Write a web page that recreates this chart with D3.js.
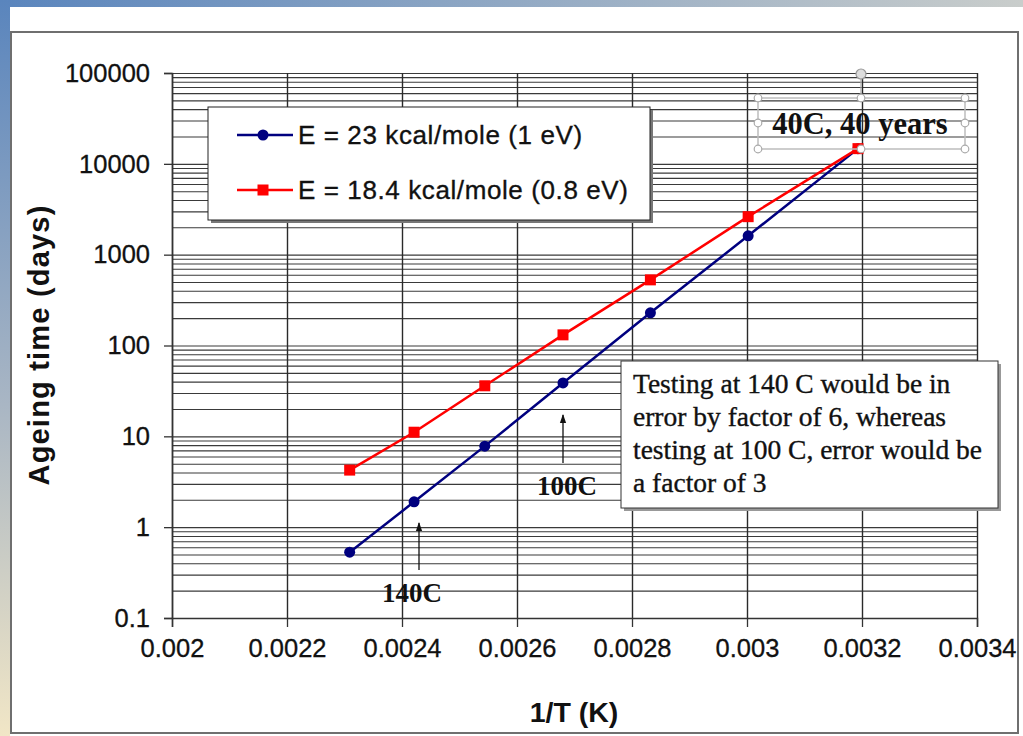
<!DOCTYPE html>
<html>
<head>
<meta charset="utf-8">
<script src="https://cdn.jsdelivr.net/npm/d3@7"></script>
<style>
  body { margin: 0; background: #fff; }
  svg { display: block; }
  .tick text { font-family: "Liberation Sans", Arial, sans-serif; font-size: 25.5px; fill: #111; stroke: #111; stroke-width: 0.3px; }
  text.heavy { stroke: #111; stroke-width: 0.35px; }
</style>
</head>
<body>
<div id="chart"></div>
<script>
// 1/T values (K^-1) for 160C .. 40C
var invT = [0.002309, 0.002421, 0.002544, 0.00268, 0.002832, 0.003002, 0.003193];
// ageing time in days
var timeE23 = [0.53, 1.9, 7.8, 38.7, 229, 1614, 14700];
var timeE18 = [4.25, 11.1, 36, 131, 528, 2620, 14700];
var seriesNames = ['E = 23 kcal/mole (1 eV)', 'E = 18.4 kcal/mole (0.8 eV)'];
var xTicks = [0.002, 0.0022, 0.0024, 0.0026, 0.0028, 0.003, 0.0032, 0.0034];
var yTicks = [0.1, 1, 10, 100, 1000, 10000, 100000];
var noteLines = ['Testing at 140 C would be in', 'error by factor of 6, whereas',
                 'testing at 100 C, error would be', 'a factor of 3'];

var W = 1023, H = 736;
var margin = {top: 73, right: 46, bottom: 118, left: 172},
    width = W - margin.left - margin.right,
    height = H - margin.top - margin.bottom;

var svg = d3.select('#chart').append('svg')
    .attr('width', W).attr('height', H);

// slide background strips
var defs = svg.append('defs');
var gTop = defs.append('linearGradient').attr('id', 'gtop');
gTop.append('stop').attr('offset', '0%').attr('stop-color', '#5a85bd');
gTop.append('stop').attr('offset', '100%').attr('stop-color', '#c9cdcb');
var gLeft = defs.append('linearGradient').attr('id', 'gleft')
    .attr('x1', 0).attr('y1', 0).attr('x2', 0).attr('y2', 1);
gLeft.append('stop').attr('offset', '0%').attr('stop-color', '#5a85bd');
gLeft.append('stop').attr('offset', '55%').attr('stop-color', '#a9b6c4');
gLeft.append('stop').attr('offset', '100%').attr('stop-color', '#f1e6c6');
svg.append('rect').attr('x', 0).attr('y', 0).attr('width', W).attr('height', 7).attr('fill', 'url(#gtop)');
svg.append('rect').attr('x', 0).attr('y', 0).attr('width', 10).attr('height', H).attr('fill', 'url(#gleft)');

// chart frame
svg.append('rect').attr('x', 11).attr('y', 32).attr('width', 1007).attr('height', 701)
    .attr('fill', '#fff').attr('stroke', '#6f6f6f').attr('stroke-width', 2);

var g = svg.append('g').attr('transform', 'translate(' + margin.left + ',' + margin.top + ')');

var x = d3.scaleLinear().domain([0.002, 0.0034]).range([0, width]);
var y = d3.scaleLog().domain([0.1, 100000]).range([height, 0]);

// grid lines
g.append('g')
    .call(d3.axisLeft(y).tickValues(y.ticks()).tickSize(-width).tickFormat(''))
    .call(s => s.select('.domain').remove())
    .call(s => s.selectAll('line').attr('stroke', '#3a3a3a').attr('stroke-width', 1.1));
g.append('g')
    .call(d3.axisBottom(x).tickValues(xTicks).tickSize(height).tickFormat(''))
    .call(s => s.select('.domain').remove())
    .call(s => s.selectAll('line').attr('stroke', '#2a2a2a').attr('stroke-width', 1.4));

// axes
g.append('g')
    .call(d3.axisLeft(y).tickValues(yTicks).tickSize(8).tickPadding(14)
        .tickFormat(d => d < 1 ? '0.1' : d3.format('d')(d)))
    .call(s => s.select('.domain').attr('stroke', '#333').attr('stroke-width', 1.5))
    .call(s => s.selectAll('.tick line').attr('stroke', '#333').attr('stroke-width', 1.3));
g.append('g').attr('transform', 'translate(0,' + height + ')')
    .call(d3.axisBottom(x).tickValues(xTicks).tickSize(9).tickPadding(12)
        .tickFormat(d => String(+d.toFixed(4))))
    .call(s => s.select('.domain').attr('stroke', '#333').attr('stroke-width', 1.5))
    .call(s => s.selectAll('.tick line').attr('stroke', '#333').attr('stroke-width', 1.3));

// axis titles
svg.append('text').attr('x', 574).attr('y', 722).attr('text-anchor', 'middle')
    .attr('font-family', 'Liberation Sans, Arial, sans-serif').attr('font-weight', 'bold')
    .attr('font-size', 28.5).attr('fill', '#111').text('1/T (K)');
svg.append('text').attr('transform', 'translate(49,345) rotate(-90)').attr('text-anchor', 'middle')
    .attr('font-family', 'Liberation Sans, Arial, sans-serif').attr('font-weight', 'bold')
    .attr('font-size', 29).attr('letter-spacing', 1.2).attr('fill', '#111').text('Ageing time (days)');

// series
var line = d3.line().x(d => x(d[0])).y(d => y(d[1]));
var blueData = d3.zip(invT, timeE23);
var redData = d3.zip(invT, timeE18);

g.append('path').datum(blueData).attr('d', line)
    .attr('fill', 'none').attr('stroke', '#00007f').attr('stroke-width', 2.5);
g.selectAll('.pt-blue').data(blueData).enter().append('circle')
    .attr('class', 'pt-blue')
    .attr('cx', d => x(d[0])).attr('cy', d => y(d[1])).attr('r', 5.5).attr('fill', '#00007f');

g.append('path').datum(redData).attr('d', line)
    .attr('fill', 'none').attr('stroke', '#ff0000').attr('stroke-width', 2.5);
g.selectAll('.pt-red').data(redData).enter().append('rect')
    .attr('class', 'pt-red')
    .attr('x', d => x(d[0]) - 5.5).attr('y', d => y(d[1]) - 5.5)
    .attr('width', 11).attr('height', 11).attr('fill', '#ff0000');

// legend
var leg = svg.append('g');
leg.append('rect').attr('x', 211).attr('y', 110).attr('width', 442).attr('height', 113).attr('fill', '#777');
leg.append('rect').attr('x', 208).attr('y', 107).attr('width', 442).attr('height', 113)
    .attr('fill', '#fff').attr('stroke', '#222').attr('stroke-width', 1);
var legItems = [
  {name: seriesNames[0], color: '#00007f', shape: 'circle', cy: 135},
  {name: seriesNames[1], color: '#ff0000', shape: 'square', cy: 190}
];
legItems.forEach(function(it) {
  leg.append('line').attr('x1', 237).attr('x2', 293).attr('y1', it.cy).attr('y2', it.cy)
      .attr('stroke', it.color).attr('stroke-width', 2.5);
  if (it.shape === 'circle') {
    leg.append('circle').attr('cx', 263).attr('cy', it.cy).attr('r', 5.5).attr('fill', it.color);
  } else {
    leg.append('rect').attr('x', 257.5).attr('y', it.cy - 5.5).attr('width', 11).attr('height', 11).attr('fill', it.color);
  }
  leg.append('text').attr('class', 'heavy').attr('x', 298).attr('y', it.cy + 9)
      .attr('font-family', 'Liberation Sans, Arial, sans-serif').attr('font-size', 26)
      .attr('letter-spacing', 0.6).attr('fill', '#111').text(it.name);
});

// arrows with labels
defs.append('marker').attr('id', 'arr').attr('viewBox', '0 0 10 10')
    .attr('refX', 9).attr('refY', 5).attr('markerWidth', 7).attr('markerHeight', 7)
    .attr('orient', 'auto')
  .append('path').attr('d', 'M0,1.5 L10,5 L0,8.5 Z').attr('fill', '#111');
[{xa: 419, y1: 570, y2: 523, label: '140C', lx: 412, ly: 602},
 {xa: 563, y1: 463, y2: 415, label: '100C', lx: 567, ly: 495}].forEach(function(a) {
  svg.append('line').attr('x1', a.xa).attr('x2', a.xa).attr('y1', a.y1).attr('y2', a.y2)
      .attr('stroke', '#111').attr('stroke-width', 1.3).attr('marker-end', 'url(#arr)');
  svg.append('text').attr('x', a.lx).attr('y', a.ly).attr('text-anchor', 'middle')
      .attr('font-family', 'Liberation Serif, Times New Roman, serif').attr('font-weight', 'bold')
      .attr('font-size', 27).attr('fill', '#111').text(a.label);
});

// note box
svg.append('rect').attr('x', 624).attr('y', 364).attr('width', 377).attr('height', 147).attr('fill', '#999');
svg.append('rect').attr('x', 621).attr('y', 361).attr('width', 377).attr('height', 147)
    .attr('fill', '#fff').attr('stroke', '#333').attr('stroke-width', 1);
noteLines.forEach(function(t, i) {
  svg.append('text').attr('class', 'heavy').attr('x', 633).attr('y', 393 + i * 33)
      .attr('font-family', 'Liberation Serif, Times New Roman, serif').attr('font-size', 27.5)
      .attr('fill', '#111').text(t);
});

// selected text box "40C, 40 years"
var sel = svg.append('g');
sel.append('rect').attr('x', 758).attr('y', 98).attr('width', 207).attr('height', 51)
    .attr('fill', 'none').attr('stroke', '#bdbdbd').attr('stroke-width', 1.5);
sel.append('line').attr('x1', 861).attr('x2', 861).attr('y1', 78).attr('y2', 98)
    .attr('stroke', '#aaa').attr('stroke-width', 1.2);
sel.append('circle').attr('cx', 861).attr('cy', 74).attr('r', 5)
    .attr('fill', '#ddd').attr('stroke', '#999').attr('stroke-width', 1.2);
sel.append('text').attr('x', 860).attr('y', 134).attr('text-anchor', 'middle')
    .attr('font-family', 'Liberation Serif, Times New Roman, serif').attr('font-weight', 'bold')
    .attr('font-size', 30.5).attr('fill', '#111').text('40C, 40 years');
[[758, 98], [861, 98], [965, 98], [758, 123], [965, 123], [758, 149], [861, 149], [965, 149]].forEach(function(p) {
  sel.append('circle').attr('cx', p[0]).attr('cy', p[1]).attr('r', 3.8)
      .attr('fill', '#fff').attr('stroke', '#aaa').attr('stroke-width', 1.2);
});
</script>
</body>
</html>
